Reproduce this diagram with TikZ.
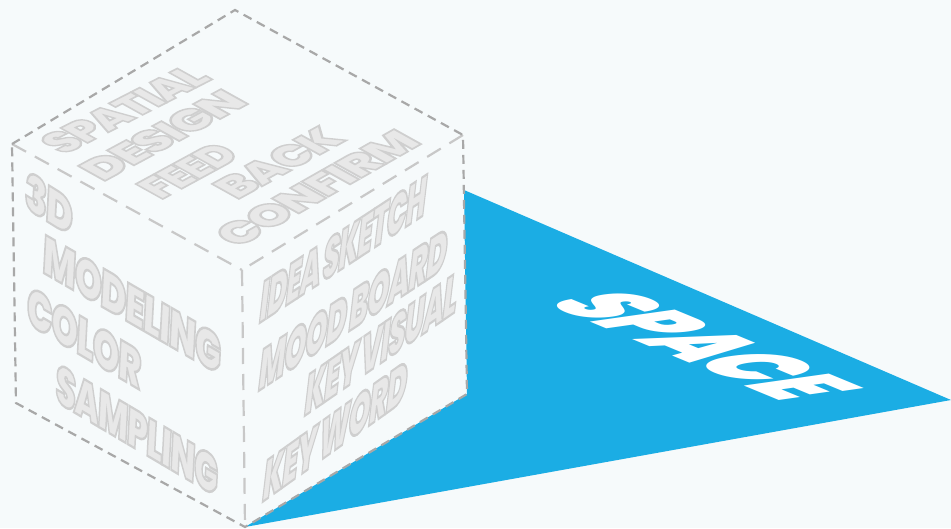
\documentclass[tikz,border=0pt]{standalone}
\usepackage{fontspec}
\newfontfamily\heavy[UprightFont=* Black,LetterSpace=-4,WordSpace=0.7]{Poppins}
\newfontfamily\heavier[UprightFont=* Black,LetterSpace=-3]{Poppins}
\definecolor{bgc}{HTML}{F6FAFB}
\definecolor{bluec}{HTML}{1BADE4}
\definecolor{outerc}{HTML}{A8A8A8}
\definecolor{innerc}{HTML}{C8C8C8}
\tikzset{
  outeredge/.style={draw=outerc,line width=2.2pt,dash pattern=on 9pt off 6pt},
  inneredge/.style={draw=innerc,line width=2.2pt,dash pattern=on 16pt off 10pt},
  facelabel/.style={anchor=base west,inner sep=0pt,outer sep=0pt,transform shape,font=\heavy\fontsize{20}{24}\selectfont},
  planelabel/.style={anchor=base west,inner sep=0pt,outer sep=0pt,transform shape,text=white,font=\heavier\fontsize{20}{24}\selectfont}
}
\newcommand{\outl}[1]{\special{pdf:code 2 Tr 0.9 w 0.81 0.81 0.81 RG 0.91 0.91 0.91 rg}#1\special{pdf:code 0 Tr}}
\newcommand{\premeasure}[1]{%
  \setbox0=\hbox{\heavy\fontsize{20}{24}\selectfont #1}%
  \expandafter\xdef\csname wd@#1\endcsname{\the\wd0}}
\newcommand{\settransform}[7]{%
    \edef\tw{\csname wd@#7\endcsname}%
    \pgfmathsetmacro\ca{(#3-#1)/\tw*1pt}%
    \pgfmathsetmacro\cb{-(#4-#2)/\tw*1pt}%
    \pgfmathsetmacro\cc{#5/\capht*1pt}%
    \pgfmathsetmacro\cd{-#6/\capht*1pt}%
    \pgftransformcm{\ca}{\cb}{\cc}{\cd}{\pgfpoint{#1pt}{-#2pt}}}
\newcommand{\facetext}[8]{%
  \begin{scope}
    \settransform{#2}{#3}{#4}{#5}{#6}{#7}{#8}%
    \node[facelabel] (#1) at (0,0) {\outl{#8}};
  \end{scope}}
\newcommand{\planetext}[8]{%
  \begin{scope}
    \settransform{#2}{#3}{#4}{#5}{#6}{#7}{#8}%
    \node[planelabel] (#1) at (0,0) {#8};
  \end{scope}}
\AtBeginDocument{%
  \setbox0=\hbox{\heavy\fontsize{20}{24}\selectfont H}%
  \xdef\capht{\the\ht0}%
  \premeasure{SPATIAL}\premeasure{DESIGN}\premeasure{FEED}\premeasure{BACK}\premeasure{CONFIRM}%
  \premeasure{3D}\premeasure{MODELING}\premeasure{COLOR}\premeasure{SAMPLING}%
  \premeasure{IDEA SKETCH}\premeasure{MOOD BOARD}\premeasure{KEY VISUAL}\premeasure{KEY WORD}%
  \setbox0=\hbox{\heavier\fontsize{20}{24}\selectfont SPACE}%
  \expandafter\xdef\csname wd@SPACE\endcsname{\the\wd0}}
\begin{document}
\begin{tikzpicture}[x=1pt,y=-1pt]
\useasboundingbox (0,0) rectangle (951,528);
\fill[bgc] (0,0) rectangle (951,528);
\coordinate (top) at (235,10);
\coordinate (tr) at (463,135);
\coordinate (br) at (467,394);
\coordinate (bot) at (245,527);
\coordinate (bl) at (16,403);
\coordinate (tl) at (12,144);
\coordinate (mid) at (242,270);
\coordinate (s1) at (464,190);
\coordinate (s2) at (951,400);
\fill[bluec] (s1) -- (s2) -- (bot) -- (br) -- cycle;
\draw[inneredge] (tl) -- (mid);
\draw[inneredge] (tr) -- (mid);
\draw[inneredge] (mid) -- (bot);
\draw[outeredge] (tl) -- (top) -- (tr) -- (br) -- (bot) -- (bl) -- (tl);
\facetext{t1}{64}{155}{213}{79}{-27}{-15}{SPATIAL}
\facetext{t2}{103}{182}{250}{103}{-27}{-15}{DESIGN}
\facetext{t3}{161}{200}{242}{156}{-27}{-15}{FEED}
\facetext{t4}{237}{200}{347}{140}{-27}{-15}{BACK}
\facetext{t5}{238}{248}{423}{143}{-27}{-15}{CONFIRM}
\facetext{l1}{24}{207}{72}{237}{2}{-36}{3D}
\facetext{l2}{42}{272}{220}{375}{2}{-38}{MODELING}
\facetext{l3}{26}{323}{140}{390}{2}{-38}{COLOR}
\facetext{l4}{55}{401}{217}{497}{2}{-38}{SAMPLING}
\facetext{r1}{258}{324}{424}{215}{5}{-42}{IDEA SKETCH}
\facetext{r2}{257}{392}{445}{268}{5}{-42}{MOOD BOARD}
\facetext{r3}{303}{417}{455}{312}{5}{-42}{KEY VISUAL}
\facetext{r4}{261}{503}{405}{400}{5}{-42}{KEY WORD}
\planetext{sp}{542}{302}{782}{401}{85}{-12}{SPACE}
\end{tikzpicture}
\end{document}
